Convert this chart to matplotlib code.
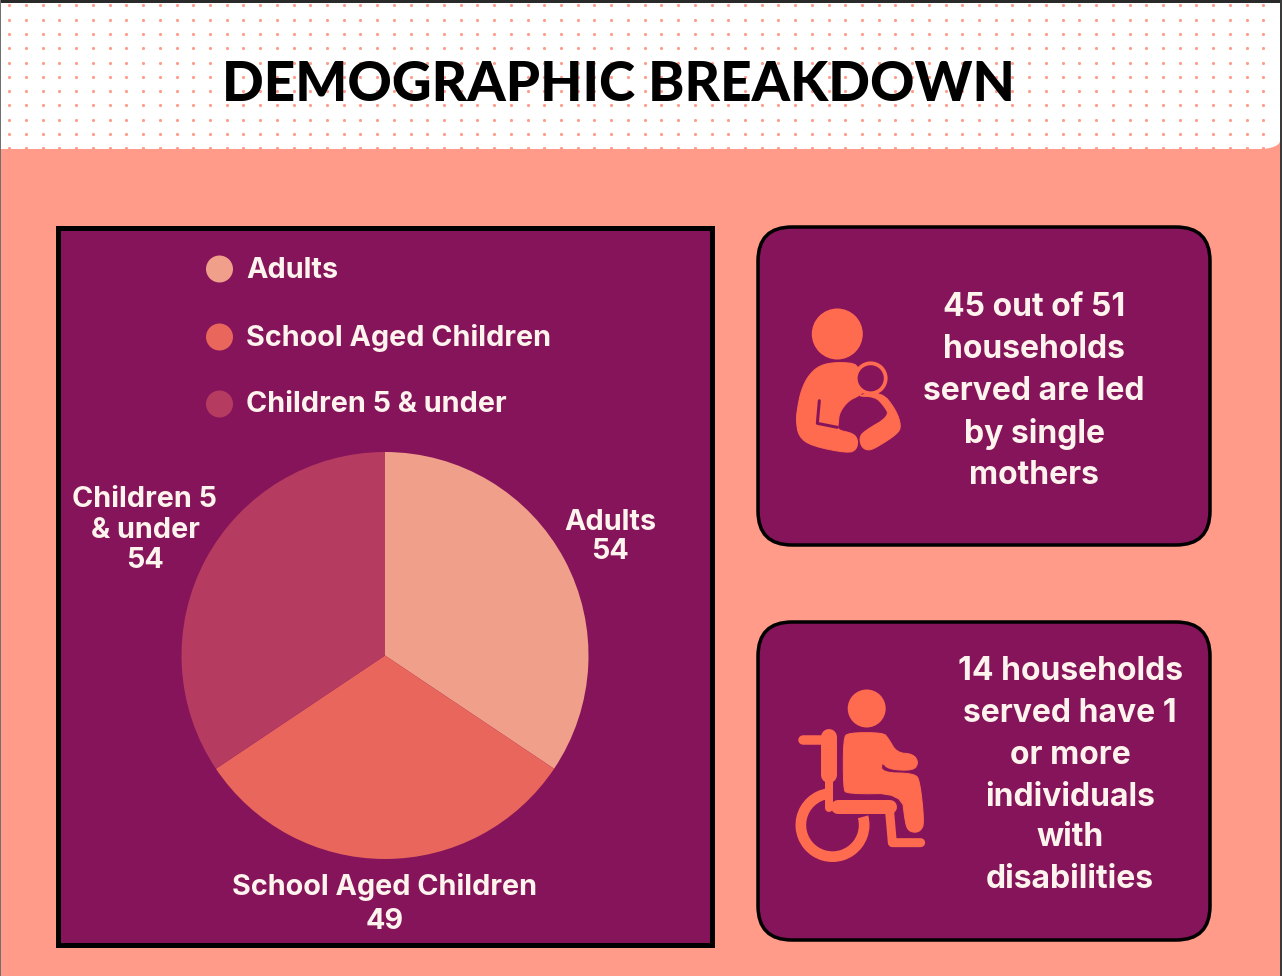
import numpy as np
import matplotlib
matplotlib.use("Agg")
import matplotlib.pyplot as plt
from matplotlib.patches import Circle, Rectangle, FancyBboxPatch, Polygon, Wedge

categories = ["Adults", "School Aged Children", "Children 5 & under"]
values = [54, 49, 54]
pie_labels = ["Adults", "School Aged Children", "Children 5\n& under"]
pie_colors = ["#F09F8A", "#E9665C", "#B53C60"]
title = "DEMOGRAPHIC BREAKDOWN"
card1_lines = ["45 out of 51", "households", "served are led", "by single", "mothers"]
card2_lines = ["14 households", "served have 1", "or more", "individuals", "with", "disabilities"]

SALMON = "#FF9B88"
PURPLE = "#85145A"
ICON = "#FF6B4F"
BODY_FONT = ["Inter", "Open Sans", "DejaVu Sans"]

fig = plt.figure(figsize=(12.82, 9.76), dpi=100, facecolor=SALMON)

# whole figure in pixels, y going down
ax = fig.add_axes([0, 0, 1, 1])
ax.set_xlim(0, 1282)
ax.set_ylim(976, 0)
ax.axis("off")


def lw(px):
    return px * 72 / 100


def body_text(x, y, s, size=21, **kw):
    ax.text(x, y, s, color="#FFF3EE", fontsize=size, fontweight="bold", family=BODY_FONT,
            ha="center", va="center", **kw)


def smooth(pts, rounds=2):
    # corner cutting, so traced outlines do not look faceted
    pts = np.array(pts, dtype=float)
    for _ in range(rounds):
        nxt = np.roll(pts, -1, axis=0)
        pts = np.column_stack([0.75 * pts + 0.25 * nxt, 0.25 * pts + 0.75 * nxt]).reshape(-1, 2)
    return pts


# header with dots
ax.add_patch(Rectangle((0, 0), 1282, 149, fc="white", ec="none"))
corner = np.linspace(0, np.pi / 2, 12)
ax.add_patch(Polygon(list(zip(1260 + 20 * np.sin(corner), 141 + 8 * np.cos(corner))) + [(1282, 141), (1282, 149)],
                     fc=SALMON, ec="none"))
dx, dy = np.meshgrid(np.arange(9.3, 1278, 16.72), np.arange(5.3, 149, 14.3))
ax.scatter(dx.ravel(), dy.ravel(), s=5, color="#FF9B88", marker="o", linewidths=0)
ax.add_patch(Rectangle((0, 0), 1282, 3, fc="#2A2A2A", ec="none"))
ax.add_patch(Rectangle((0, 0), 1, 976, fc="#707070", ec="none"))
ax.add_patch(Rectangle((1280, 0), 2, 976, fc="#3A3A3A", ec="none"))
ax.text(618, 85, title, fontsize=39.5, fontweight="black", family=["Lato", "DejaVu Sans"],
        color="black", ha="center", va="center")

# pie panel
ax.add_patch(Rectangle((58, 227.5), 653.5, 717, fc=PURPLE, ec="black", lw=lw(5), joinstyle="miter"))

legend_y = [269, 337, 404]
for cat, col, y in zip(categories, pie_colors, legend_y):
    ax.add_patch(Circle((219.5, y), 13.5, fc=col, ec="none"))
    ax.text(246, y + 1, cat, color="#FFF3EE", fontsize=20.7, fontweight="bold", family=BODY_FONT,
            ha="left", va="center")

ax_pie = fig.add_axes([181.5 / 1282, 1 - 859 / 976, 407 / 1282, 407 / 976])
ax_pie.pie(values, colors=pie_colors, startangle=90, counterclock=False, radius=1)
ax_pie.set_xlim(-1, 1)
ax_pie.set_ylim(-1, 1)
ax_pie.patch.set_alpha(0)

body_text(610, 537, f"{pie_labels[0]}\n{values[0]}", size=20.7, linespacing=1.07)
body_text(385, 904, f"{pie_labels[1]}\n{values[1]}", size=20.7, linespacing=1.3)
body_text(145, 530, f"{pie_labels[2]}\n{values[2]}", size=20.7, linespacing=1.15)

# info cards
for top in (227, 622):
    ax.add_patch(FancyBboxPatch((758 + 34, top + 34), 452 - 68, 318 - 68,
                                boxstyle="round,pad=34,rounding_size=34",
                                fc=PURPLE, ec="black", lw=lw(3.5)))

for y, line in zip([308, 350, 392, 434, 476], card1_lines):
    body_text(1034, y, line, size=23)
for y, line in zip([671, 713, 755, 797, 838, 880], card2_lines):
    body_text(1070, y, line, size=23)


# icons in 3x crop coordinates
def mother(p):
    return [(780 + x / 3, 290 + y / 3) for x, y in p]


def chair(p):
    return [(780 + x / 3, 680 + y / 3) for x, y in p]


def poly(pts):
    ax.add_patch(Polygon(smooth(pts), fc=ICON, ec=ICON, lw=lw(1), joinstyle="round"))


def stroke(pts, width, color=ICON):
    xs, ys = zip(*pts)
    ax.plot(xs, ys, color=color, lw=lw(width), solid_capstyle="round", solid_joinstyle="round")


ax.add_patch(Circle((837.3, 334), 25.5, fc=ICON, ec="none"))
poly(mother([(240, 222), (170, 216), (118, 226), (84, 258), (64, 300), (54, 345), (48, 390), (56, 440),
             (95, 468), (205, 490), (230, 478), (234, 450), (220, 430), (172, 420), (175, 400), (178, 368),
             (205, 332), (240, 316), (255, 300), (222, 270)]))
stroke(mother([(118, 332), (112, 400), (172, 412)]), 3, PURPLE)
poly(mother([(225, 318), (285, 320), (310, 345), (330, 378), (250, 425), (238, 445), (245, 472), (265, 482),
             (290, 472), (352, 432), (364, 408), (348, 360), (305, 305)]))
ax.add_patch(Circle((870.7, 378.3), 15, fc=PURPLE, ec=ICON, lw=lw(3.8)))

ax.add_patch(Circle((866.7, 708.5), 19, fc=ICON, ec="none"))
poly(chair([(205, 158), (310, 158), (325, 175), (350, 218), (400, 222), (416, 248), (400, 272), (325, 268),
            (305, 245), (305, 278), (405, 280), (420, 305), (433, 430), (422, 452), (405, 458), (385, 452),
            (376, 430), (365, 340), (200, 342), (190, 325), (190, 175)]))
ax.add_patch(Wedge((832.5, 825), 37, -15, 262, width=10.7, fc=ICON, ec="none"))
stroke(chair([(148, 170), (148, 285)]), 16)
stroke(chair([(148, 290), (148, 385)]), 8)
stroke(chair([(70, 181), (148, 181)]), 9.5)
stroke(chair([(175, 380), (330, 380)]), 14)
stroke(chair([(328, 385), (337, 488), (422, 488)]), 9)

fig.savefig("out.png", dpi=100, facecolor=fig.get_facecolor())
